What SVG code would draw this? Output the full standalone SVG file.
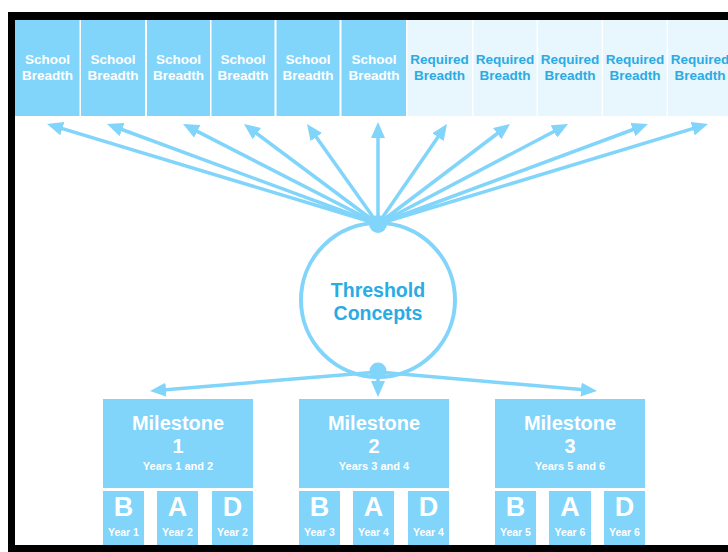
<svg xmlns="http://www.w3.org/2000/svg" width="728" height="552" viewBox="0 0 728 552">
<style>
text{font-family:"Liberation Sans",Arial,sans-serif;font-weight:bold;text-anchor:middle}
.sb{fill:#81d4fa}
.rb{fill:#e8f6fd}
.wt{fill:#ffffff;font-size:13.5px}
.bt{fill:#2aabe4;font-size:13.5px}
.ln{stroke:#81d4fa;stroke-width:3.5;fill:none;marker-end:url(#ah)}
.ms{fill:#ffffff}
.lt{fill:#ffffff;font-size:27px}
.yr{fill:#ffffff;font-size:10.5px}
</style>
<defs>
<marker id="ah" markerUnits="userSpaceOnUse" markerWidth="16" markerHeight="14" refX="6" refY="7" orient="auto">
<path d="M0,0 L16,7 L0,14 z" fill="#81d4fa"/>
</marker>
</defs>
<rect x="0" y="0" width="728" height="552" fill="#ffffff"/>

<g id="top-boxes">
<g id="sb1"><rect class="sb" x="15" y="20" width="64.5" height="96"/><text class="wt" x="47.5" y="64">School</text><text class="wt" x="47.5" y="80">Breadth</text></g>
<g id="sb2"><rect class="sb" x="81" y="20" width="64" height="96"/><text class="wt" x="113" y="64">School</text><text class="wt" x="113" y="80">Breadth</text></g>
<g id="sb3"><rect class="sb" x="147" y="20" width="63" height="96"/><text class="wt" x="178.5" y="64">School</text><text class="wt" x="178.5" y="80">Breadth</text></g>
<g id="sb4"><rect class="sb" x="211.5" y="20" width="63" height="96"/><text class="wt" x="243" y="64">School</text><text class="wt" x="243" y="80">Breadth</text></g>
<g id="sb5"><rect class="sb" x="276.5" y="20" width="63" height="96"/><text class="wt" x="308" y="64">School</text><text class="wt" x="308" y="80">Breadth</text></g>
<g id="sb6"><rect class="sb" x="341.5" y="20" width="64.5" height="96"/><text class="wt" x="374" y="64">School</text><text class="wt" x="374" y="80">Breadth</text></g>
<g id="rb1"><rect class="rb" x="407.5" y="20" width="64.5" height="96"/><text class="bt" x="439.5" y="64">Required</text><text class="bt" x="439.5" y="80">Breadth</text></g>
<g id="rb2"><rect class="rb" x="473.5" y="20" width="63" height="96"/><text class="bt" x="505" y="64">Required</text><text class="bt" x="505" y="80">Breadth</text></g>
<g id="rb3"><rect class="rb" x="538" y="20" width="63.5" height="96"/><text class="bt" x="570" y="64">Required</text><text class="bt" x="570" y="80">Breadth</text></g>
<g id="rb4"><rect class="rb" x="603" y="20" width="63.5" height="96"/><text class="bt" x="635" y="64">Required</text><text class="bt" x="635" y="80">Breadth</text></g>
<g id="rb5"><rect class="rb" x="668" y="20" width="64" height="96"/><text class="bt" x="700" y="64">Required</text><text class="bt" x="700" y="80">Breadth</text></g>
</g>

<g id="threshold">
<circle cx="378" cy="300" r="77" fill="#ffffff" stroke="#81d4fa" stroke-width="4"/>
<text x="378" y="297" style="fill:#2aabe4;font-size:19.5px">Threshold</text>
<text x="378" y="320" style="fill:#2aabe4;font-size:19.5px">Concepts</text>
</g>

<g id="connectors">
<line class="ln" x1="378" y1="224" x2="56.6" y2="126.9"/>
<line class="ln" x1="378" y1="224" x2="116.4" y2="127.5"/>
<line class="ln" x1="378" y1="224" x2="191.9" y2="128.6"/>
<line class="ln" x1="378" y1="224" x2="252" y2="130"/>
<line class="ln" x1="378" y1="224" x2="312.8" y2="132.2"/>
<line class="ln" x1="378" y1="224" x2="378" y2="132"/>
<line class="ln" x1="378" y1="224" x2="441.3" y2="132.2"/>
<line class="ln" x1="378" y1="224" x2="502" y2="130"/>
<line class="ln" x1="378" y1="224" x2="559.2" y2="128.7"/>
<line class="ln" x1="378" y1="224" x2="638.6" y2="127.5"/>
<line class="ln" x1="378" y1="224" x2="698.4" y2="126.9"/>
<line class="ln" x1="378" y1="372" x2="160" y2="390.2"/>
<line class="ln" x1="378" y1="372" x2="378" y2="387"/>
<line class="ln" x1="378" y1="372" x2="587" y2="390.1"/>
<circle cx="378" cy="224" r="9" fill="#81d4fa"/>
<circle cx="378" cy="371" r="8.5" fill="#81d4fa"/>
</g>

<g id="milestone1">
<rect class="sb" x="103" y="399" width="150" height="89"/>
<text class="ms" x="178" y="430" font-size="20">Milestone</text>
<text class="ms" x="178" y="453" font-size="20">1</text>
<text class="ms" x="178" y="470" font-size="11">Years 1 and 2</text>
<rect class="sb" x="103" y="491" width="41" height="56"/>
<rect class="sb" x="157" y="491" width="41" height="56"/>
<rect class="sb" x="212" y="491" width="41" height="56"/>
<text class="lt" x="123.5" y="516">B</text>
<text class="lt" x="177.5" y="516">A</text>
<text class="lt" x="232.5" y="516">D</text>
<text class="yr" x="123.5" y="536">Year 1</text>
<text class="yr" x="177.5" y="536">Year 2</text>
<text class="yr" x="232.5" y="536">Year 2</text>
</g>

<g id="milestone2">
<rect class="sb" x="299" y="399" width="150" height="89"/>
<text class="ms" x="374" y="430" font-size="20">Milestone</text>
<text class="ms" x="374" y="453" font-size="20">2</text>
<text class="ms" x="374" y="470" font-size="11">Years 3 and 4</text>
<rect class="sb" x="299" y="491" width="41" height="56"/>
<rect class="sb" x="353" y="491" width="41" height="56"/>
<rect class="sb" x="408" y="491" width="41" height="56"/>
<text class="lt" x="319.5" y="516">B</text>
<text class="lt" x="373.5" y="516">A</text>
<text class="lt" x="428.5" y="516">D</text>
<text class="yr" x="319.5" y="536">Year 3</text>
<text class="yr" x="373.5" y="536">Year 4</text>
<text class="yr" x="428.5" y="536">Year 4</text>
</g>

<g id="milestone3">
<rect class="sb" x="495" y="399" width="150" height="89"/>
<text class="ms" x="570" y="430" font-size="20">Milestone</text>
<text class="ms" x="570" y="453" font-size="20">3</text>
<text class="ms" x="570" y="470" font-size="11">Years 5 and 6</text>
<rect class="sb" x="495" y="491" width="41" height="56"/>
<rect class="sb" x="549" y="491" width="42" height="56"/>
<rect class="sb" x="604" y="491" width="41" height="56"/>
<text class="lt" x="515.5" y="516">B</text>
<text class="lt" x="570" y="516">A</text>
<text class="lt" x="624.5" y="516">D</text>
<text class="yr" x="515.5" y="536">Year 5</text>
<text class="yr" x="570" y="536">Year 6</text>
<text class="yr" x="624.5" y="536">Year 6</text>
</g>

<g id="frame" fill="#000000">
<rect x="8" y="12" width="720" height="8"/>
<rect x="8" y="12" width="7" height="540"/>
<rect x="8" y="545" width="720" height="7"/>
</g>
</svg>
